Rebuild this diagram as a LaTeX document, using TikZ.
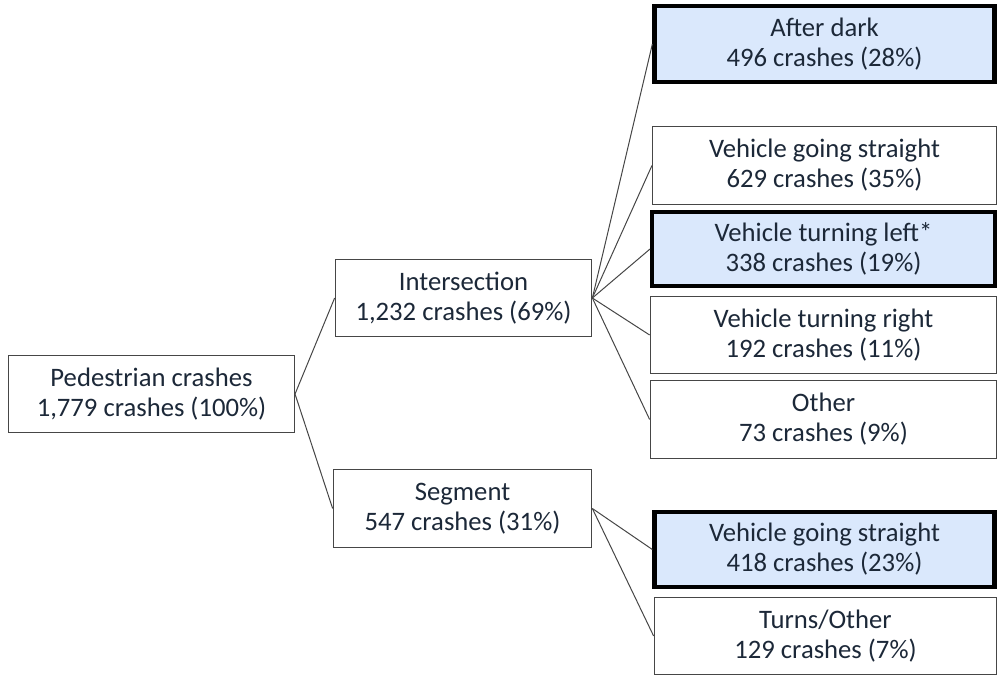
\documentclass[tikz,border=0pt]{standalone}
\usepackage{fontspec}
\setmainfont{Carlito}
\definecolor{txtnavy}{RGB}{28,40,56}
\definecolor{hiblue}{RGB}{218,232,252}
\definecolor{edgegray}{RGB}{70,70,70}

\begin{document}
\begin{tikzpicture}[x=0.75pt,y=-0.75pt,
	box/.style={draw=edgegray,line width=0.8pt,fill=white,text=txtnavy,align=center,inner sep=0pt,
		font=\fontsize{20}{22.5}\selectfont},
	hibox/.style={box,draw=black,line width=3.2pt,fill=hiblue},
	link/.style={draw=edgegray,line width=0.75pt}]
	\useasboundingbox (0,0) rectangle (1000,675);

	\node[box,minimum width=214.5pt,minimum height=58pt](ped) at (151.5,394) {Pedestrian crashes\\1,779 crashes (100\%)};
	\node[box,minimum width=192.5pt,minimum height=58pt](inter) at (463.5,298) {Intersection\\1,232 crashes (69\%)};
	\node[box,minimum width=194pt,minimum height=58pt](seg) at (462.5,508.5) {Segment\\547 crashes (31\%)};

	\node[hibox,minimum width=255pt,minimum height=57pt](dark) at (824.5,44) {After dark\\496 crashes (28\%)};
	\node[box,minimum width=258pt,minimum height=58pt](straight) at (824.5,165.5) {Vehicle going straight\\629 crashes (35\%)};
	\node[hibox,minimum width=257pt,minimum height=56pt](left) at (823.5,249) {Vehicle turning left*\\338 crashes (19\%)};
	\node[box,minimum width=260pt,minimum height=58pt](right) at (823.5,335) {Vehicle turning right\\192 crashes (11\%)};
	\node[box,minimum width=260pt,minimum height=58pt](other) at (823.5,419.5) {Other\\73 crashes (9\%)};
	\node[hibox,minimum width=255pt,minimum height=56pt](segstraight) at (824.5,549.5) {Vehicle going straight\\418 crashes (23\%)};
	\node[box,minimum width=257pt,minimum height=58pt](turns) at (825.5,636) {Turns/Other\\129 crashes (7\%)};

	\draw[link] (inter.west) -- (ped.east) -- (seg.west);
	\draw[link] (inter.east) -- (dark.west);
	\draw[link] (inter.east) -- (straight.west);
	\draw[link] (inter.east) -- (left.west);
	\draw[link] (inter.east) -- (right.west);
	\draw[link] (inter.east) -- (other.west);
	\draw[link] (seg.east) -- (segstraight.west);
	\draw[link] (seg.east) -- (turns.west);
\end{tikzpicture}
\end{document}
